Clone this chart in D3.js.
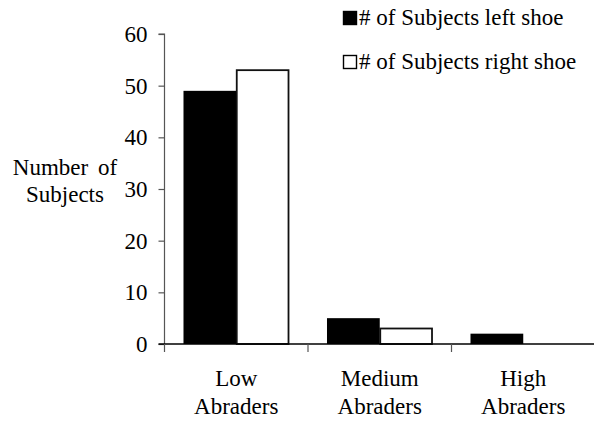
<!DOCTYPE html>
<html><head><meta charset="utf-8">
<script src="https://cdn.jsdelivr.net/npm/d3@7"></script>
<style>body{margin:0;background:#fff}svg{display:block}</style>
</head><body><svg id="c" width="594" height="423"></svg>
<script>
const categories = [["Low","Abraders"],["Medium","Abraders"],["High","Abraders"]];
const seriesNames = ["# of Subjects left shoe","# of Subjects right shoe"];
const leftShoe = [49, 5, 2];
const rightShoe = [53, 3, 0];
const yTicks = [0,10,20,30,40,50,60];

const FONT = "'Liberation Serif', 'Times New Roman', Tinos, 'Nimbus Roman', 'DejaVu Serif', serif";
const FS = 23;
const svg = d3.select("#c");
const x0 = 164.5, x1 = 595, yTop = 34, yBot = 344;
const x = d3.scaleBand().domain(d3.range(categories.length)).range([x0, x1]).paddingInner(0).paddingOuter(0);
const xs = d3.scaleBand().domain([0,1]).range([0, x.bandwidth()]).paddingInner(0).paddingOuter(0.36);
const y = d3.scaleLinear().domain([0,60]).range([yBot, yTop]);

// y axis
const ya = svg.append("g").attr("transform",`translate(${x0},0)`)
  .call(d3.axisLeft(y).tickValues(yTicks).tickSize(6).tickPadding(11).tickFormat(d3.format("d")));
ya.attr("font-family", FONT).attr("font-size", FS);
ya.select(".domain").attr("stroke","#555").attr("stroke-width",1.2).attr("d",`M-6,${yTop}H0V${yBot}`);
ya.selectAll(".tick line").attr("stroke","#555").attr("stroke-width",1.2);
ya.selectAll(".tick text").attr("font-family", FONT).attr("font-size",FS).attr("fill","#000");

// bars
const data = categories.map((c,i)=>[leftShoe[i], rightShoe[i]]);
const g = svg.append("g");
data.forEach((vals,i)=>{
  vals.forEach((v,s)=>{
    if (v <= 0) return;
    const bx = x(i) + xs(s);
    if (s === 0) {
      g.append("rect").attr("x",bx).attr("y",y(v)).attr("width",xs.bandwidth()).attr("height",y(0)-y(v)).attr("fill","#000");
    } else {
      g.append("rect").attr("x",bx+0.5).attr("y",y(v)).attr("width",xs.bandwidth()-1).attr("height",y(0)-y(v)).attr("fill","#fff").attr("stroke","#111").attr("stroke-width",1.8);
    }
  });
});

// x axis
const xa = svg.append("g").attr("transform",`translate(0,${yBot})`);
xa.append("line").attr("x1",x0-6).attr("x2",x1).attr("y1",0).attr("y2",0).attr("stroke","#000").attr("stroke-width",1.3);
d3.range(categories.length).forEach(i=>{
  xa.append("line").attr("x1",x(i)).attr("x2",x(i)).attr("y1",0).attr("y2",8).attr("stroke","#555").attr("stroke-width",1.2);
  const t = xa.append("text").attr("text-anchor","middle").attr("font-size",FS).attr("font-family",FONT).attr("fill","#000");
  categories[i].forEach((ln,k)=>t.append("tspan").attr("x",x(i)+x.bandwidth()/2).attr("y",42+k*28).text(ln));
});

// y label
const yl = svg.append("text").attr("text-anchor","middle").attr("font-size",FS).attr("font-family",FONT).attr("fill","#000");
["Number of","Subjects"].forEach((ln,k)=>yl.append("tspan").attr("x",65).attr("y",175+k*27).attr("word-spacing", k===0?4:0).text(ln));

// legend
seriesNames.forEach((n,k)=>{
  const ly = 18 + k*44;
  svg.append("rect").attr("x", 343.5).attr("y", ly-6.5).attr("width",13).attr("height",13)
    .attr("fill", k===0?"#000":"#fff").attr("stroke","#000").attr("stroke-width",1.4);
  svg.append("text").attr("x",359).attr("y",ly+7).attr("font-size",FS).attr("font-family",FONT).attr("fill","#000").text(n);
});
</script></body></html>
